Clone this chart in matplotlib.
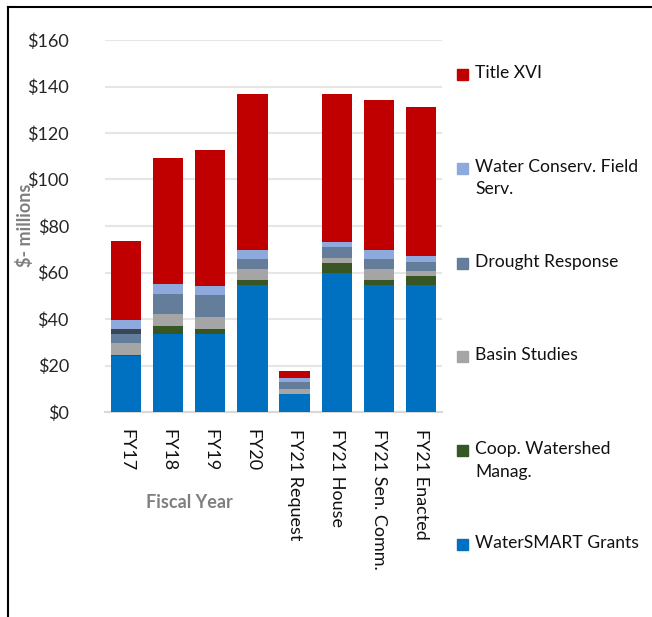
import matplotlib.pyplot as plt
from matplotlib.lines import Line2D
from matplotlib.patches import Rectangle
import numpy as np

plt.rcParams['font.family'] = ['Lato', 'DejaVu Sans']

years = ['FY17', 'FY18', 'FY19', 'FY20', 'FY21 Request',
         'FY21 House', 'FY21 Sen. Comm.', 'FY21 Enacted']

# $ millions, stacked bottom to top
watersmart = [24.0, 33.5, 33.5, 54.6, 7.9, 59.9, 54.6, 54.6]
coop_watershed = [0.6, 3.4, 2.1, 2.1, 0.0, 4.0, 2.1, 4.0]
basin_studies = [5.2, 5.4, 5.3, 4.9, 2.0, 2.2, 4.9, 2.2]
drought = [3.9, 8.3, 9.3, 4.0, 3.2, 4.7, 4.0, 3.9]
other = [1.9, 0.0, 0.0, 0.0, 0.0, 0.0, 0.0, 0.0]
field_serv = [3.9, 4.3, 3.9, 3.9, 1.7, 2.3, 3.9, 2.3]
title_xvi = [34.1, 54.5, 58.8, 67.4, 3.0, 63.8, 64.5, 64.2]

series = [
    ('WaterSMART Grants', watersmart, '#0070C0'),
    ('Coop. Watershed\nManag.', coop_watershed, '#375623'),
    ('Basin Studies', basin_studies, '#A5A5A5'),
    ('Drought Response', drought, '#647D9B'),
    (None, other, '#3B4556'),
    ('Water Conserv. Field\nServ.', field_serv, '#8EA9DB'),
    ('Title XVI', title_xvi, '#C00000'),
]

fig = plt.figure(figsize=(6.52, 6.17), dpi=100)
ax = fig.add_axes([105 / 652, 1 - 412 / 617, 337 / 652, 372 / 617])

x = np.arange(len(years))
bottom = np.zeros(len(years))
for name, vals, col in series:
    ax.bar(x, vals, 0.72, bottom=bottom, color=col, zorder=3)
    bottom += np.array(vals)

ax.set_xlim(-0.5, len(years) - 0.5)
ax.set_ylim(0, 160)
ax.set_yticks(np.arange(0, 161, 20))
ax.set_yticklabels(['$%d' % v for v in range(0, 161, 20)])
ax.yaxis.grid(True, color='#E6E6E6', linewidth=1.5, zorder=0)
ax.set_xticks(x)
ax.set_xticklabels(years, rotation=270, va='top', ha='center')
ax.tick_params(axis='y', length=0, pad=26, labelsize=13, labelcolor='#262626')
ax.tick_params(axis='x', length=0, pad=12, labelsize=13, labelcolor='#111111')
for s in ['top', 'right', 'left']:
    ax.spines[s].set_visible(False)
ax.spines['bottom'].set_color('#D9D9D9')
ax.spines['bottom'].set_linewidth(1.5)

fig.text(25 / 652, 1 - 225 / 617, '$- millions', rotation=90, ha='center',
         va='center', fontsize=13, fontweight='bold', color='#7F7F7F')
fig.text(189 / 652, 1 - 502 / 617, 'Fiscal Year', ha='center', va='center',
         fontsize=13, fontweight='bold', color='#7F7F7F')

# legend, top to bottom
leg_y = [75, 169, 264, 357, 451, 545]
named = [s for s in series if s[0] is not None][::-1]
for (name, vals, col), yy in zip(named, leg_y):
    fig.patches.append(Rectangle((457 / 652, 1 - (yy + 5) / 617), 11 / 652, 11 / 617,
                                 transform=fig.transFigure, color=col))
    fig.text(475 / 652, 1 - (yy - 10) / 617, name, ha='left', va='top',
             fontsize=12.6, color='#111111', linespacing=1.5)

# outer frame
fig.add_artist(Line2D([8 / 652, 8 / 652], [0, 1 - 7 / 617], color='black',
                      linewidth=1.5, transform=fig.transFigure))
fig.add_artist(Line2D([8 / 652, 1], [1 - 7 / 617, 1 - 7 / 617], color='black',
                      linewidth=1.5, transform=fig.transFigure))

fig.savefig('out.png', dpi=100)
